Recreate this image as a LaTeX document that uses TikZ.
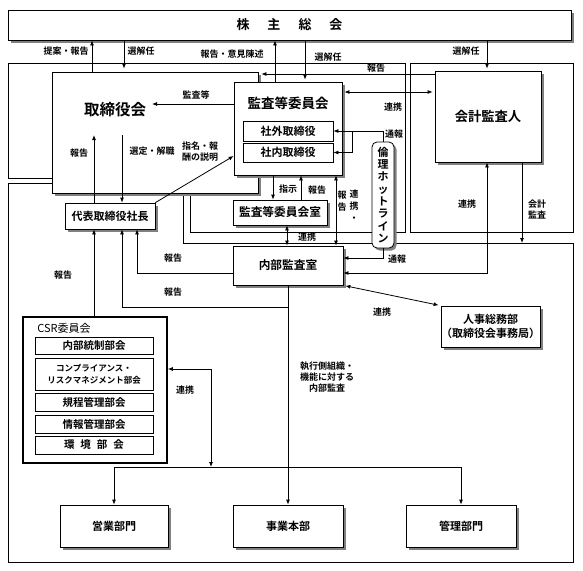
\documentclass[tikz,border=0pt]{standalone}
\usepackage{fontspec}
\setmainfont{Noto Sans CJK JP}[BoldFont={Noto Sans CJK JP Bold}]
\usetikzlibrary{arrows.meta,shadows}
\newcommand{\myfs}[2]{\fontsize{#1}{#2}\selectfont}
\begin{document}
\begin{tikzpicture}[x=1pt,y=-1pt,line width=0.8pt,
  arr/.style={-{Latex[length=5pt,width=4pt]}},
  darr/.style={{Latex[length=5pt,width=4pt]}-{Latex[length=5pt,width=4pt]}},
  sbox/.style={draw,fill=white,inner sep=0pt,align=center,
    drop shadow={shadow xshift=2.5pt,shadow yshift=-2.5pt,fill=black!50,opacity=1}},
  pbox/.style={draw,fill=white,inner sep=0pt,align=center},
  lbl/.style={inner sep=0pt,align=center,font=\myfs{9}{11}\bfseries},
]
\useasboundingbox (0,0) rectangle (583,570);
% frames
\draw (8,183) -- (183,183) -- (183,243) -- (573,243) -- (573,562) -- (8,562) -- cycle;
\draw (8,63) -- (405,63) -- (405,232) -- (190,232) -- (190,178) -- (8,178) -- cycle;
\draw (410,63) rectangle (573,232);
% nodes
\node[sbox,minimum width=563,minimum height=30,font=\myfs{13}{15}\bfseries] (kabu) at (289.5,25) {株\hspace{18pt}主\hspace{18pt}総\hspace{18pt}会};
\node[sbox,minimum width=206,minimum height=121] (tori) at (155,132.5) {};
\node[inner sep=0pt,font=\myfs{15.5}{17}\bfseries] (toritxt) at (115,110) {取締役会};
\node[sbox,minimum width=108,minimum height=93] (kansa) at (288,128.5) {};
\node[inner sep=0pt,font=\myfs{13.5}{15}\bfseries] (kansatxt) at (288,103) {監査等委員会};
\node[pbox,minimum width=90,minimum height=20,font=\myfs{11}{13}\bfseries] (shagai) at (288,131) {社外取締役};
\node[pbox,minimum width=90,minimum height=19,font=\myfs{11}{13}\bfseries] (shanai) at (288,152.5) {社内取締役};
\node[sbox,minimum width=106,minimum height=91,font=\myfs{13.3}{15}\bfseries] (kaikei) at (488,116.5) {会計監査人};
\node[sbox,minimum width=90,minimum height=26,font=\myfs{11}{13}\bfseries] (daihyo) at (110,216) {代表取締役社長};
\node[sbox,minimum width=94,minimum height=25,font=\myfs{11.7}{13}\bfseries] (kshitsu) at (280,212.5) {監査等委員会室};
\node[sbox,minimum width=110,minimum height=39,font=\myfs{11.7}{13}\bfseries] (naibu) at (288,265.5) {内部監査室};
\node[sbox,rounded corners=5pt,minimum width=22,minimum height=106,font=\myfs{11}{12.3}\bfseries] (hot) at (383,195) {倫\\理\\ホ\\ッ\\ト\\ラ\\イ\\ン};
\node[sbox,minimum width=93,minimum height=41,font=\myfs{11}{14}\bfseries] (jinji) at (490.5,326.5) {人事総務部\\（取締役会事務局）};
\node[draw,line width=1.6pt,fill=white,minimum width=144,minimum height=146] (csr) at (95,390) {};
\node[inner sep=0pt,anchor=west,font=\myfs{11}{13}] (csrtxt) at (37,328) {CSR委員会};
\node[pbox,minimum width=118,minimum height=17,font=\myfs{10.5}{12}\bfseries] (csr1) at (94,345.5) {内部統制部会};
\node[pbox,minimum width=118,minimum height=32,font=\myfs{8.5}{12}\bfseries] (csr2) at (94,374) {コンプライアンス・\\リスクマネジメント部会};
\node[pbox,minimum width=118,minimum height=18,font=\myfs{10.5}{12}\bfseries] (csr3) at (94,402) {規程管理部会};
\node[pbox,minimum width=118,minimum height=18,font=\myfs{10.5}{12}\bfseries] (csr4) at (94,424) {情報管理部会};
\node[pbox,minimum width=118,minimum height=18,font=\myfs{10.5}{12}\bfseries] (csr5) at (94,445) {環\hspace{6pt}境\hspace{6pt}部\hspace{6pt}会};
\node[sbox,minimum width=108,minimum height=42,font=\myfs{11}{13}\bfseries] (eigyo) at (114,526) {営業部門};
\node[sbox,minimum width=110,minimum height=42,font=\myfs{11}{13}\bfseries] (jigyo) at (288,526) {事業本部};
\node[sbox,minimum width=110,minimum height=42,font=\myfs{11}{13}\bfseries] (kanri) at (461,526) {管理部門};
% helper coordinates
\coordinate (c92) at (92,0); \coordinate (c124) at (124,0); \coordinate (c275) at (275,0);
\coordinate (c305) at (305,0); \coordinate (c487) at (487,0); \coordinate (c94) at (94,0);
\coordinate (c122) at (122,0); \coordinate (c273) at (273,0); \coordinate (c301) at (301,0);
\coordinate (c336) at (336,0); \coordinate (c287) at (287,0); \coordinate (c522) at (522,0);
\coordinate (c137) at (137,0);
\coordinate (r74) at (0,74); \coordinate (r92) at (0,92); \coordinate (r104) at (0,104);
\coordinate (r156) at (0,156); \coordinate (r258) at (0,258); \coordinate (r273) at (0,273);
\coordinate (r307) at (0,307); \coordinate (r369) at (0,369);
\coordinate (t1) at (94,135); \coordinate (t2) at (122,135); \coordinate (t3) at (152,104);
\coordinate (t4) at (522,243); \coordinate (t5) at (211,467); \coordinate (j) at (352,131);
% connectors
\draw[arr] (tori.north -| c92) -- (kabu.south -| c92);
\draw[arr,shorten >=3pt] (kabu.south -| c124) -- (tori.north -| c124);
\draw[arr] (kansa.north -| c275) -- (kabu.south -| c275);
\draw[arr,shorten >=2pt] (kabu.south -| c305) -- (kansa.north -| c305);
\draw[arr,shorten >=2pt] (kabu.south -| c487) -- (kaikei.north -| c487);
\draw[arr,shorten >=3pt] (kaikei.west |- r74) -- (tori.east |- r74);
\draw[darr,shorten <=2pt,shorten >=2pt] (kansa.east |- r92) -- (kaikei.west |- r92);
\draw[arr] (kansa.west |- r104) -- (t3);
\draw[arr] (daihyo.north -| c94) -- (t1);
\draw[arr] (t2) -- (daihyo.north -| c122);
\draw[arr] (daihyo.north east) -- (kansa.west |- r156);
\draw[arr] (kansa.south -| c273) -- (kshitsu.north -| c273);
\draw[arr] (kshitsu.north -| c301) -- (kansa.south -| c301);
\draw[darr] (kansa.south -| c336) -- (naibu.north -| c336);
\draw[darr] (kshitsu.south -| c287) -- (naibu.north -| c287);
\draw (hot.north) -- (hot.north |- j) -- (j);
\draw[arr] (j) -- (shagai.east);
\draw[arr] (j) |- (shanai.east);
\draw[arr] (hot.south) |- (naibu.east |- r258);
\draw[darr] (kaikei.south -| c487) |- (naibu.east |- r273);
\draw[arr] (kaikei.south -| c522) -- (t4);
\draw[darr,shorten <=2pt,shorten >=2pt] (naibu.south east) -- (jinji.north west);
\draw[arr] (naibu.west |- r273) -| (daihyo.south -| c137);
\draw[arr] (naibu.south |- r307) -| (daihyo.south -| c122);
\draw[arr] (naibu.south) -- (jigyo.north);
\draw[arr] (csr.north -| c94) -- (daihyo.south -| c94);
\draw[darr] (csr.east |- r369) -| (t5);
\draw (eigyo.north |- t5) -- (kanri.north |- t5);
\draw[arr] (eigyo.north |- t5) -- (eigyo.north);
\draw[arr] (kanri.north |- t5) -- (kanri.north);
% labels
\node[lbl] at (66,51) {提案・報告};
\node[lbl] at (141,51) {選解任};
\node[lbl] at (232,54) {報告・意見陳述};
\node[lbl] at (328,57) {選解任};
\node[lbl] at (466,51) {選解任};
\node[lbl] at (376,68) {報告};
\node[lbl] at (196,95) {監査等};
\node[lbl] at (79,153) {報告};
\node[lbl] at (152,151) {選定・解職};
\node[lbl,align=left] at (200,152) {指名・報\\酬の説明};
\node[lbl] at (393,107) {連携};
\node[lbl] at (394,134) {通報};
\node[lbl] at (288,189) {指示};
\node[lbl] at (317,190) {報告};
\node[lbl,font=\myfs{9}{12}\bfseries] at (342,201) {報\\告};
\node[lbl,font=\myfs{9}{12}\bfseries] at (354,206) {連\\携\\・};
\node[lbl] at (307,237) {連携};
\node[lbl] at (173,258) {報告};
\node[lbl] at (173,292) {報告};
\node[lbl] at (397,259) {通報};
\node[lbl] at (467,204) {連携};
\node[lbl] at (537,210) {会計\\監査};
\node[lbl] at (382,312) {連携};
\node[lbl] at (63,275) {報告};
\node[lbl] at (185,390) {連携};
\node[lbl] at (327,377) {執行側組織・\\機能に対する\\内部監査};
\end{tikzpicture}
\end{document}
